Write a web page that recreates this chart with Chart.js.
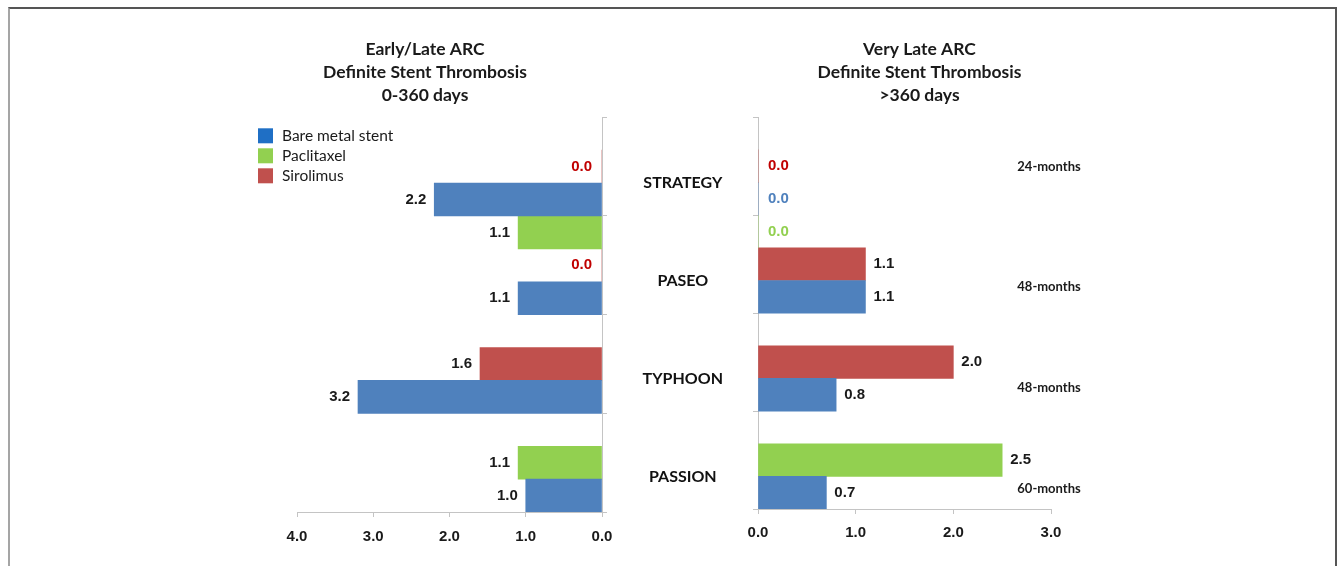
<!DOCTYPE html>
<html>
<head>
<meta charset="utf-8">
<script src="https://cdn.jsdelivr.net/npm/chart.js@4.4.0/dist/chart.umd.min.js"></script>
<style>
  body { margin: 0; background: #fff; width: 1341px; height: 566px; overflow: hidden; position: relative; }
  #frame { position: absolute; left: 8px; top: 7px; width: 1325px; height: 620px; border-top: 2px solid #555; border-left: 2px solid #a5a5a5; border-right: 2px solid #555; }
  canvas { position: absolute; top: 0; }
  #early { left: 235px; }
  #late { left: 610px; }
</style>
</head>
<body>
<div id="frame"></div>
<canvas id="early" width="380" height="566"></canvas>
<canvas id="late" width="619" height="566"></canvas>
<script>
const studies = ["STRATEGY", "PASEO", "TYPHOON", "PASSION"];
const followUp = ["24-months", "48-months", "48-months", "60-months"];
const seriesNames = ["Bare metal stent", "Paclitaxel", "Sirolimus"];

// 0-360 days, null = arm not in the trial
const earlyBms = [2.2, 1.1, 3.2, 1.0];
const earlyPaclitaxel = [null, 1.1, null, 1.1];
const earlySirolimus = [0.0, 0.0, 1.6, null];

// >360 days
const lateBms = [0.0, 1.1, 0.8, 0.7];
const latePaclitaxel = [null, 0.0, null, 2.5];
const lateSirolimus = [0.0, 1.1, 2.0, null];

const earlyMax = 4;
const lateMax = 3;

const BLUE = "#4f81bd", GREEN = "#92d050", RED = "#c0504d";
const AXIS = "#c4c4c4";
const numFont = {family: "'Liberation Sans', Arial, sans-serif", size: 15, weight: "bold"};

// three rows per study, bars pushed to the bottom of the group (paclitaxel, sirolimus, bms)
let rowLabels = studies.flatMap(s => [s, s, s]);
function toRows(bms, pac, sir) {
    let rows = {bms: Array(rowLabels.length).fill(null), pac: Array(rowLabels.length).fill(null), sir: Array(rowLabels.length).fill(null)};
    studies.forEach((s, i) => {
        let present = [["pac", pac[i]], ["sir", sir[i]], ["bms", bms[i]]].filter(p => p[1] !== null);
        present.forEach((p, k) => {
            rows[p[0]][i * 3 + 3 - present.length + k] = p[1];
        });
    });
    return rows;
}
function makeDatasets(rows) {
    return [
        {label: seriesNames[0], data: rows.bms, backgroundColor: BLUE, zeroColor: "#4f81bd", boxColor: "#1f6fc5"},
        {label: seriesNames[1], data: rows.pac, backgroundColor: GREEN, zeroColor: "#92d050", boxColor: "#92d050"},
        {label: seriesNames[2], data: rows.sir, backgroundColor: RED, zeroColor: "#c00000", boxColor: "#c0504d"}
    ];
}

let groupTick = c => (c.index === undefined || c.index % 3 === 0) ? AXIS : "rgba(0,0,0,0)";

// x axis end labels may hang over the plot edge, no extra margin for them
let noEdgePad = h => a => { a.height = h; a.paddingLeft = 0; a.paddingRight = 0; };

let valueLabels = {
    id: "valueLabels",
    afterDatasetsDraw(chart, args, opts) {
        let ctx = chart.ctx;
        ctx.save();
        ctx.font = "bold 15px 'Liberation Sans', Arial, sans-serif";
        ctx.textBaseline = "middle";
        ctx.textAlign = opts.side === "left" ? "right" : "left";
        chart.data.datasets.forEach((ds, di) => {
            chart.getDatasetMeta(di).data.forEach((bar, i) => {
                let v = ds.data[i];
                if (v === null) return;
                ctx.fillStyle = v === 0 ? ds.zeroColor : "#1a1a1a";
                let gap = v === 0 ? 10 : 8;
                ctx.fillText(v.toFixed(1), opts.side === "left" ? bar.x - gap : bar.x + gap, bar.y);
            });
        });
        ctx.restore();
    }
};

let boxLegend = {
    id: "boxLegend",
    afterDraw(chart) {
        let ctx = chart.ctx;
        let x = chart.chartArea.left - 39;
        let y = chart.chartArea.top + 11;
        ctx.save();
        ctx.font = "15.5px Lato, sans-serif";
        ctx.textBaseline = "middle";
        chart.data.datasets.forEach((ds, i) => {
            ctx.fillStyle = ds.boxColor;
            ctx.fillRect(x, y + i * 20, 15, 15);
            ctx.fillStyle = "#1a1a1a";
            ctx.fillText(ds.label, x + 24, y + i * 20 + 8);
        });
        ctx.restore();
    }
};

let followUpLabels = {
    id: "followUpLabels",
    afterDraw(chart) {
        let ctx = chart.ctx;
        let shift = [-32, -10, -7, -4];
        ctx.save();
        ctx.font = "bold 13px Lato, sans-serif";
        ctx.textAlign = "center";
        ctx.textBaseline = "middle";
        ctx.fillStyle = "#1a1a1a";
        followUp.forEach((t, i) => {
            let y = chart.scales.y.getPixelForValue(i * 3 + 2) + shift[i];
            ctx.fillText(t, chart.chartArea.right - 2, y);
        });
        ctx.restore();
    }
};

let titleFont = {family: "Lato, sans-serif", size: 17.5, weight: "bold", lineHeight: 1.32};

// left: early / late
let earlyRows = toRows(earlyBms, earlyPaclitaxel, earlySirolimus);
new Chart(document.getElementById("early"), {
    type: "bar",
    data: {labels: rowLabels, datasets: makeDatasets(earlyRows)},
    options: {
        indexAxis: "y",
        responsive: false,
        animation: false,
        datasets: {bar: {barPercentage: 1, categoryPercentage: 1, borderWidth: 0}},
        layout: {padding: {top: 0, left: 0, right: 0, bottom: 14}},
        scales: {
            x: {
                min: 0, max: earlyMax, reverse: true, stacked: true,
                ticks: {stepSize: 1, callback: v => v.toFixed(1), font: numFont, color: "#1a1a1a", padding: 11},
                grid: {drawOnChartArea: false, tickLength: 5, color: AXIS},
                border: {color: AXIS},
                afterFit: noEdgePad(40)
            },
            y: {
                position: "right", stacked: true,
                ticks: {display: false},
                grid: {drawOnChartArea: false, tickLength: 5, color: groupTick},
                border: {color: AXIS},
                afterFit: a => { a.width = 13; }
            },
            pad: {
                type: "category", position: "left", axis: "y",
                ticks: {display: false}, grid: {display: false}, border: {display: false},
                afterFit: a => { a.width = 62; }
            }
        },
        plugins: {
            legend: {display: false},
            tooltip: {enabled: false},
            title: {display: true, text: ["Early/Late ARC", "Definite Stent Thrombosis", "0-360 days"], font: titleFont, color: "#1a1a1a", padding: {top: 38, bottom: 10}},
            valueLabels: {side: "left"}
        }
    },
    plugins: [valueLabels, boxLegend]
});

// right: very late
let lateRows = toRows(lateBms, latePaclitaxel, lateSirolimus);
new Chart(document.getElementById("late"), {
    type: "bar",
    data: {labels: rowLabels, datasets: makeDatasets(lateRows)},
    options: {
        indexAxis: "y",
        responsive: false,
        animation: false,
        datasets: {bar: {barPercentage: 1, categoryPercentage: 1, borderWidth: 0}},
        layout: {padding: {top: 0, left: 0, right: 0, bottom: 14}},
        scales: {
            x: {
                min: 0, max: lateMax, stacked: true,
                ticks: {stepSize: 1, callback: v => v.toFixed(1), font: numFont, color: "#1a1a1a", padding: 10},
                grid: {drawOnChartArea: false, tickLength: 5, color: AXIS},
                border: {color: AXIS},
                afterFit: noEdgePad(43)
            },
            y: {
                position: "left", stacked: true,
                ticks: {
                    autoSkip: false, crossAlign: "center", padding: 30, labelOffset: 17,
                    callback: (v, i) => i % 3 === 1 ? studies[(i - 1) / 3] : "",
                    font: {family: "Lato, sans-serif", size: 16, weight: "bold"}, color: "#111"
                },
                grid: {drawOnChartArea: false, tickLength: 5, color: groupTick},
                border: {color: AXIS},
                afterFit: a => { a.width = 148; }
            },
            pad: {
                type: "category", position: "right", axis: "y",
                ticks: {display: false}, grid: {display: false}, border: {display: false},
                afterFit: a => { a.width = 178; }
            }
        },
        plugins: {
            legend: {display: false},
            tooltip: {enabled: false},
            title: {display: true, text: ["Very Late ARC", "Definite Stent Thrombosis", ">360 days"], font: titleFont, color: "#1a1a1a", padding: {top: 38, bottom: 10}},
            valueLabels: {side: "right"}
        }
    },
    plugins: [valueLabels, followUpLabels]
});
</script>
</body>
</html>
